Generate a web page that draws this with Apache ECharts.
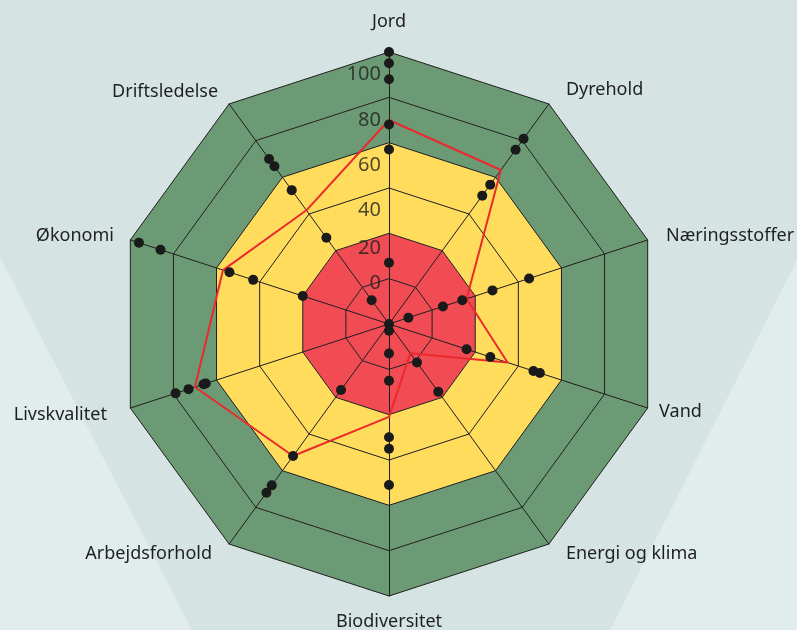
<!DOCTYPE html>
<html>
<head>
<meta charset="utf-8">
<style>html,body{margin:0;padding:0;background:#d5e3e3;}#chart{width:797px;height:630px;}</style>
<script src="https://cdn.jsdelivr.net/npm/echarts@6/dist/echarts.min.js"></script>
</head>
<body>
<div id="chart"></div>
<script>
// Indicators in ECharts radar order (counter-clockwise from the top)
const indicators = ['Jord', 'Driftsledelse', 'Økonomi', 'Livskvalitet', 'Arbejdsforhold', 'Biodiversitet', 'Energi og klima', 'Vand', 'Næringsstoffer', 'Dyrehold'];
// This farm (red line)
const farmScores = [80, 52, 67, 80, 62, 31, 6, 45, 26, 74];
// Other farms (black dots), one list per indicator
const jordDots = [-10, 17, 67, 78, 98, 105, 110];
const driftsledelseDots = [3, 37, 63, 76, 80];
const okonomiDots = [30, 53, 64, 96, 106];
const livskvalitetDots = [75, 76, 83, 89];
const arbejdsforholdDots = [26, 62, 78, 82];
const biodiversitetDots = [-7, 3, 15, 40, 45, 61];
const energiDots = [11, 27];
const vandDots = [26, 37, 57, 60];
const naeringDots = [-1, 15, 24, 38, 55];
const dyreholdDots = [60, 66, 85, 91];
const dotLists = [jordDots, driftsledelseDots, okonomiDots, livskvalitetDots, arbejdsforholdDots, biodiversitetDots, energiDots, vandDots, naeringDots, dyreholdDots];
// Scale
const scaleMin = -10, scaleMax = 110, rings = 6;
const tickLabels = [0, 20, 40, 60, 80, 100];

const CX = 389, CY = 324, R = 272;
const FONT = '"Noto Sans", "Open Sans", sans-serif';
const TXT = '#1f1f1f';
const step = 360 / indicators.length;

const dotData = [];
dotLists.forEach((list, i) => list.forEach(v => dotData.push([v, i * step])));

const tickOffsets = {0: [0, -18], 20: [0, -8]};
const tickData = tickLabels.map(v => ({
  value: [v, 0],
  label: tickOffsets[v] ? {offset: tickOffsets[v]} : undefined
}));

const gapPad = {
  'Jord': [0, 0, 9, 0],
  'Dyrehold': [0, 0, 9, 10],
  'Næringsstoffer': [0, 0, 0, 7],
  'Vand': [0, 0, 0, 0],
  'Energi og klima': [0, 0, 0, 10],
  'Biodiversitet': [5, 0, 0, 0],
  'Arbejdsforhold': [0, 10, 0, 0],
  'Livskvalitet': [6, 12, 0, 0],
  'Økonomi': [0, 5, 0, 0],
  'Driftsledelse': [0, 4, 4, 0]
};
const rich = {};
indicators.forEach((n, i) => {
  rich['n' + i] = {fontSize: 18, color: TXT, fontFamily: FONT, padding: gapPad[n]};
});

const chart = echarts.init(document.getElementById('chart'), null, {renderer: 'canvas'});
chart.setOption({
  backgroundColor: '#d5e3e3',
  animation: false,
  graphic: [
    {type: 'polygon', z: -10, silent: true, shape: {points: [[0, 257], [192, 630], [0, 630]]}, style: {fill: '#e1ecec'}},
    {type: 'polygon', z: -10, silent: true, shape: {points: [[797, 260], [610, 630], [797, 630]]}, style: {fill: '#e1ecec'}}
  ],
  radar: {
    center: [CX, CY],
    radius: R,
    startAngle: 90,
    shape: 'polygon',
    splitNumber: rings,
    indicator: indicators.map(n => ({name: n, min: scaleMin, max: scaleMax})),
    nameGap: 12,
    axisName: {
      color: TXT,
      fontSize: 18,
      fontFamily: FONT,
      formatter: (name) => '{n' + indicators.indexOf(name) + '|' + name + '}',
      rich: rich
    },
    axisLine: {lineStyle: {color: '#1e1e1e', width: 1}},
    splitLine: {lineStyle: {color: '#1e1e1e', width: 1}},
    splitArea: {areaStyle: {color: ['#f14b54', '#f14b54', '#ffdc5c', '#ffdc5c', '#6b9a74', '#6b9a74'], opacity: 1}},
    axisTick: {show: false},
    axisLabel: {show: false}
  },
  polar: {center: [CX, CY], radius: [0, R]},
  angleAxis: {type: 'value', min: 0, max: 360, startAngle: 90, clockwise: false, show: false, splitLine: {show: false}},
  radiusAxis: {type: 'value', min: scaleMin, max: scaleMax, show: false, splitLine: {show: false}},
  series: [
    {
      type: 'radar',
      z: 3,
      symbol: 'none',
      lineStyle: {color: '#ea2a2f', width: 2},
      data: [{value: farmScores, name: 'Bedrift'}]
    },
    {
      type: 'scatter',
      coordinateSystem: 'polar',
      z: 4,
      symbol: 'circle',
      symbolSize: 10,
      itemStyle: {color: '#1a1a1a', opacity: 1},
      data: dotData
    },
    {
      type: 'scatter',
      coordinateSystem: 'polar',
      z: 5,
      symbolSize: 0,
      silent: true,
      label: {
        show: true,
        position: 'left',
        distance: 8,
        formatter: p => String(p.value[0]),
        fontSize: 20,
        fontFamily: FONT,
        color: TXT
      },
      data: tickData
    }
  ]
});
</script>
</body>
</html>
